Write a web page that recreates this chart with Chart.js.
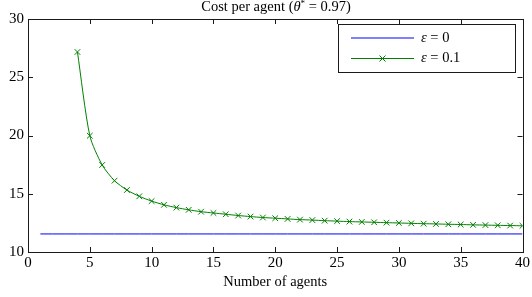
<!DOCTYPE html>
<html>
<head>
<meta charset="utf-8">
<script src="https://cdn.jsdelivr.net/npm/chart.js@4.4.0/dist/chart.umd.min.js"></script>
<style>
    html, body { margin: 0; padding: 0; background: #fff; }
    #wrap { width: 532px; height: 297px; }
</style>
</head>
<body>
<div id="wrap"><canvas id="chart" width="532" height="297"></canvas></div>
<script>
// data
const agentsEps0 = [1, 2, 3, 4, 5, 6, 7, 8, 9, 10, 11, 12, 13, 14, 15, 16, 17, 18, 19, 20,
    21, 22, 23, 24, 25, 26, 27, 28, 29, 30, 31, 32, 33, 34, 35, 36, 37, 38, 39, 40];
const costEps0 = [11.55, 11.55, 11.55, 11.55, 11.55, 11.55, 11.55, 11.55, 11.55, 11.55,
    11.55, 11.55, 11.55, 11.55, 11.55, 11.55, 11.55, 11.55, 11.55, 11.55,
    11.55, 11.55, 11.55, 11.55, 11.55, 11.55, 11.55, 11.55, 11.55, 11.55,
    11.55, 11.55, 11.55, 11.55, 11.55, 11.55, 11.55, 11.55, 11.55, 11.55];
const agentsEps01 = [4, 5, 6, 7, 8, 9, 10, 11, 12, 13, 14, 15, 16, 17, 18, 19, 20, 21, 22,
    23, 24, 25, 26, 27, 28, 29, 30, 31, 32, 33, 34, 35, 36, 37, 38, 39, 40];
const costEps01 = [27.17, 19.98, 17.47, 16.12, 15.32, 14.78, 14.37, 14.05, 13.81, 13.62,
    13.46, 13.35, 13.24, 13.13, 13.04, 12.96, 12.90, 12.84, 12.78, 12.74, 12.69, 12.65,
    12.61, 12.58, 12.55, 12.52, 12.49, 12.46, 12.43, 12.41, 12.38, 12.36, 12.33, 12.31,
    12.29, 12.27, 12.25];
const xTicks = [0, 5, 10, 15, 20, 25, 30, 35, 40];
const yTicks = [10, 15, 20, 25, 30];

const SERIF = '"Liberation Serif", "DejaVu Serif", serif';
const BLUE = '#0000ff';
const GREEN = '#008000';

function toPoints(xs, ys) {
    return xs.map((x, i) => ({ x: x, y: ys[i] }));
}

// draws a run of text pieces (mixed italic / superscript) starting at x
function drawParts(ctx, parts, x, y) {
    parts.forEach((p) => {
        ctx.font = p.f;
        ctx.fillText(p.t, x, y + (p.dy || 0));
        x += ctx.measureText(p.t).width;
    });
}

function partsWidth(ctx, parts) {
    let w = 0;
    parts.forEach((p) => { ctx.font = p.f; w += ctx.measureText(p.t).width; });
    return w;
}

// box, inward ticks, title and legend, matlab style
const matlabFrame = {
    id: 'matlabFrame',
    afterDraw(chart) {
        const ctx = chart.ctx;
        const a = chart.chartArea;
        const xs = chart.scales.x;
        const ys = chart.scales.y;
        const tl = 5;

        ctx.save();
        ctx.strokeStyle = '#1a1a1a';
        ctx.lineWidth = 1;
        ctx.strokeRect(Math.round(a.left) + 0.5, Math.round(a.top) + 0.5,
            Math.round(a.right - a.left), Math.round(a.bottom - a.top));

        ctx.beginPath();
        xTicks.forEach((v) => {
            const px = Math.round(xs.getPixelForValue(v)) + 0.5;
            ctx.moveTo(px, a.bottom); ctx.lineTo(px, a.bottom - tl);
            ctx.moveTo(px, a.top); ctx.lineTo(px, a.top + tl);
        });
        yTicks.forEach((v) => {
            const py = Math.round(ys.getPixelForValue(v)) + 0.5;
            ctx.moveTo(a.left, py); ctx.lineTo(a.left + tl, py);
            ctx.moveTo(a.right, py); ctx.lineTo(a.right - tl, py);
        });
        ctx.stroke();

        // title with italic theta and superscript star
        ctx.fillStyle = '#000';
        ctx.textBaseline = 'alphabetic';
        ctx.textAlign = 'left';
        const title = [
            { t: 'Cost per agent (', f: '14.5px ' + SERIF },
            { t: 'θ', f: 'italic 14.5px ' + SERIF },
            { t: '*', f: '9px ' + SERIF, dy: -5 },
            { t: ' = 0.97)', f: '14.5px ' + SERIF }
        ];
        drawParts(ctx, title, 276 - partsWidth(ctx, title) / 2, 11);

        // legend
        const lx = 338, ly = 24, lw = 177, lh = 48;
        ctx.fillStyle = '#fff';
        ctx.fillRect(lx, ly, lw, lh);
        ctx.strokeStyle = '#1a1a1a';
        ctx.strokeRect(lx + 0.5, ly + 0.5, lw, lh);

        const items = [
            { label: '0', color: BLUE, marker: false, y: 38 },
            { label: '0.1', color: GREEN, marker: true, y: 58.5 }
        ];
        items.forEach((it) => {
            ctx.strokeStyle = it.color;
            ctx.lineWidth = 1;
            ctx.beginPath();
            ctx.moveTo(351, it.y); ctx.lineTo(414, it.y);
            ctx.stroke();
            if (it.marker) {
                const cx = 382.5, r = 3;
                ctx.beginPath();
                ctx.moveTo(cx - r, it.y - r); ctx.lineTo(cx + r, it.y + r);
                ctx.moveTo(cx - r, it.y + r); ctx.lineTo(cx + r, it.y - r);
                ctx.stroke();
            }
            ctx.fillStyle = '#000';
            ctx.textBaseline = 'middle';
            drawParts(ctx, [
                { t: 'ε', f: 'italic 14.5px ' + SERIF },
                { t: ' = ' + it.label, f: '14.5px ' + SERIF }
            ], 421, it.y);
        });
        ctx.restore();
    }
};

new Chart(document.getElementById('chart'), {
    type: 'line',
    data: {
        datasets: [
            {
                label: 'ε = 0',
                data: toPoints(agentsEps0, costEps0),
                borderColor: BLUE,
                borderWidth: 1,
                pointRadius: 0,
                tension: 0
            },
            {
                label: 'ε = 0.1',
                data: toPoints(agentsEps01, costEps01),
                borderColor: GREEN,
                backgroundColor: GREEN,
                borderWidth: 1,
                pointStyle: 'crossRot',
                pointRadius: 4,
                pointBorderWidth: 1,
                pointBorderColor: GREEN,
                tension: 0.25
            }
        ]
    },
    options: {
        responsive: false,
        animation: false,
        events: [],
        layout: { padding: { top: 19, right: 5, left: 0, bottom: 0 } },
        plugins: {
            legend: { display: false },
            title: { display: false },
            tooltip: { enabled: false }
        },
        scales: {
            x: {
                type: 'linear',
                min: 0,
                max: 40,
                afterFit: (scale) => { scale.height = 45; },
                afterBuildTicks: (scale) => { scale.ticks = xTicks.map((v) => ({ value: v })); },
                grid: { display: false, drawTicks: false },
                border: { display: false },
                ticks: {
                    color: '#000',
                    font: { family: SERIF, size: 15 },
                    padding: 2,
                    maxRotation: 0
                },
                title: {
                    display: true,
                    text: 'Number of agents',
                    color: '#000',
                    font: { family: SERIF, size: 14.5 },
                    padding: { top: 0, bottom: 6 }
                }
            },
            y: {
                min: 10,
                max: 30,
                afterFit: (scale) => { scale.width = 28; },
                afterBuildTicks: (scale) => { scale.ticks = yTicks.map((v) => ({ value: v })); },
                grid: { display: false, drawTicks: false },
                border: { display: false },
                ticks: {
                    color: '#000',
                    font: { family: SERIF, size: 15 },
                    padding: 4
                }
            }
        }
    },
    plugins: [matlabFrame]
});
</script>
</body>
</html>
